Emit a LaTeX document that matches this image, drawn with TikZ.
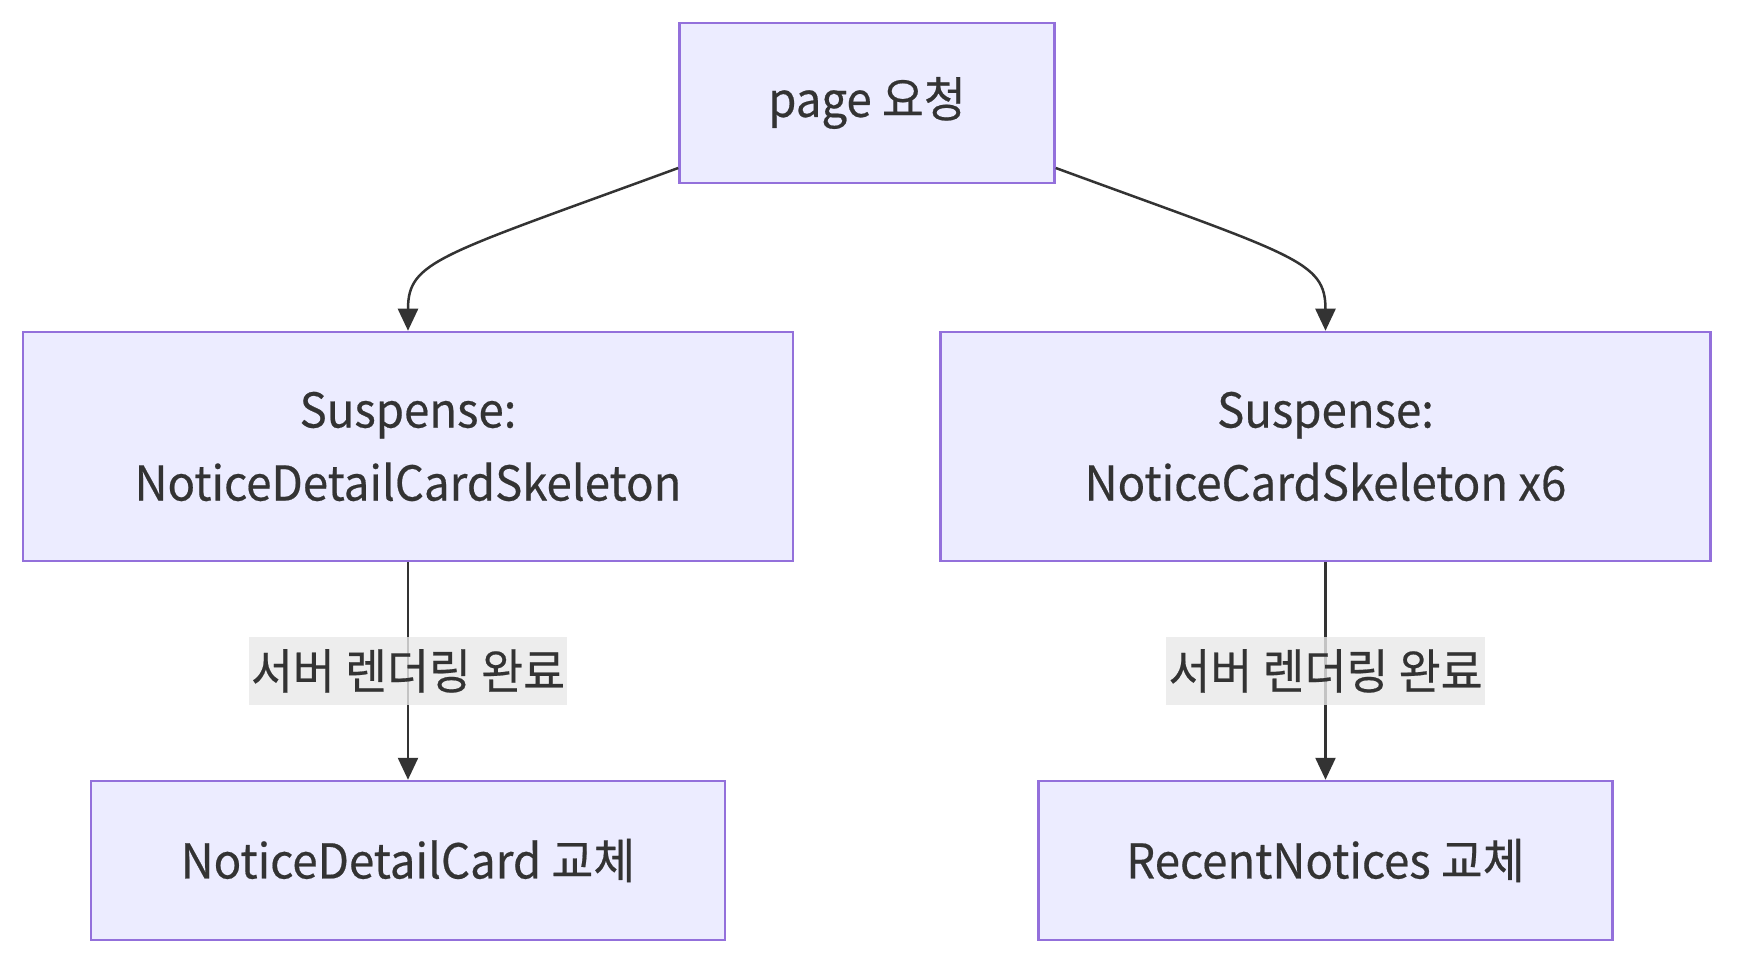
\documentclass[tikz,border=0pt]{standalone}
\usepackage{fontspec}
\setmainfont{Noto Sans CJK KR}[FakeStretch=0.95,FakeBold=0.4]
\usetikzlibrary{arrows.meta}
\definecolor{boxfill}{HTML}{ECECFF}
\definecolor{boxdraw}{HTML}{9370DB}
\definecolor{ink}{HTML}{333333}
\definecolor{lblbg}{HTML}{E8E8E8}
\begin{document}
\begin{tikzpicture}[x=0.5pt,y=-0.5pt,
  box/.style={draw=boxdraw, fill=boxfill, line width=1.25pt, text=ink,
    font=\fontsize{24}{36.5}\selectfont, align=center, inner sep=0pt},
  conn/.style={draw=ink, line width=1.25pt, -{Triangle[length=11pt,width=10pt]}},
  lbl/.style={fill=lblbg, fill opacity=0.8, text opacity=1, text=ink,
    font=\fontsize{24}{28}\selectfont, inner xsep=1pt, minimum height=34pt}
]
\useasboundingbox (0,0) rectangle (1758,978);
\node[box, minimum width=187.5pt, minimum height=80pt] (top) at (867,103) {page 요청};
\node[box, minimum width=385pt, minimum height=114.5pt] (sdl) at (408,446.5) {Suspense:\\NoticeDetailCardSkeleton};
\node[box, minimum width=385pt, minimum height=114.5pt] (sdr) at (1325.5,446.5) {Suspense:\\NoticeCardSkeleton x6};
\node[box, minimum width=317pt, minimum height=79.5pt] (ndc) at (408,860.5) {NoticeDetailCard 교체};
\node[box, minimum width=287pt, minimum height=79.5pt] (rn) at (1325.5,860.5) {RecentNotices 교체};
\draw[conn] (top.199) .. controls +(-240,88) and +(0,-70) .. (sdl.north);
\draw[conn] (top.341) .. controls +(240,88) and +(0,-70) .. (sdr.north);
\draw[conn] (sdl.south) -- node[lbl] (l1) {서버 렌더링 완료} (ndc.north);
\draw[conn] (sdr.south) -- node[lbl] (l2) {서버 렌더링 완료} (rn.north);
\end{tikzpicture}
\end{document}
